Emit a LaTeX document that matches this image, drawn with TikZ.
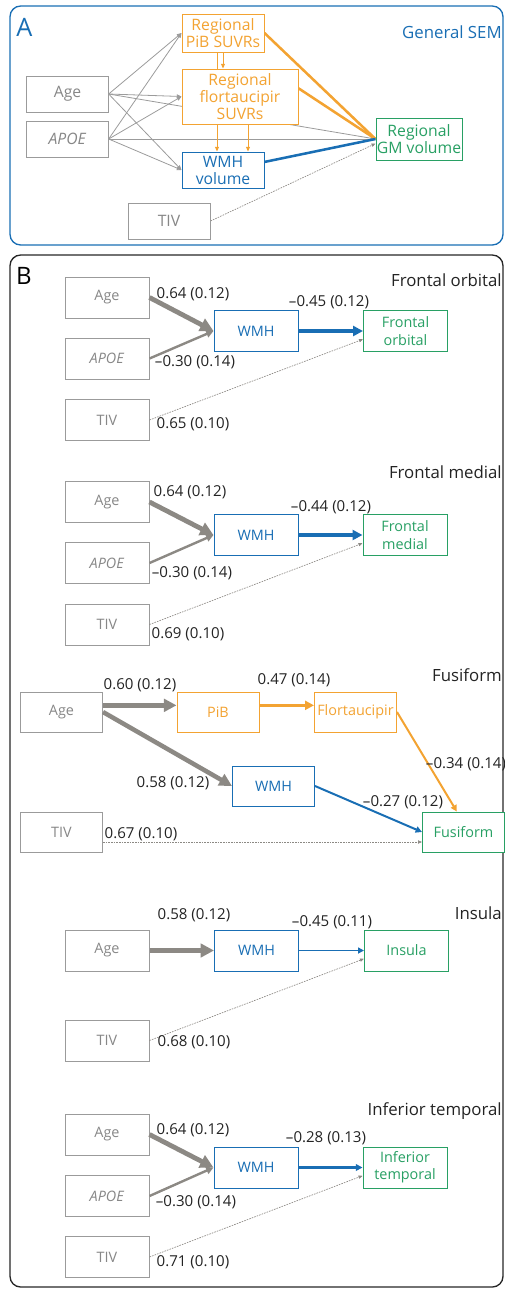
\documentclass[tikz,border=0pt]{standalone}
\usepackage{fontspec}
\setmainfont{Open Sans}
\usetikzlibrary{arrows.meta, backgrounds}

\definecolor{boxgray}{RGB}{155,155,155}
\definecolor{txtgray}{RGB}{135,135,135}
\definecolor{arrgray}{RGB}{140,137,132}
\definecolor{semorange}{RGB}{243,163,50}
\definecolor{semblue}{RGB}{25,110,180}
\definecolor{semgreen}{RGB}{40,160,100}
\definecolor{labdark}{RGB}{35,35,35}

\begin{document}
\begin{tikzpicture}[x=0.75pt, y=-0.75pt,
        varbox/.style={draw=boxgray, text=txtgray, fill=white, line width=0.75pt, inner sep=0pt,
            align=center, minimum width=63pt, minimum height=30.75pt, font=\fontsize{10.8}{13}\selectfont},
        pibbox/.style={varbox, draw=semorange, text=semorange},
        wmhbox/.style={varbox, draw=semblue, text=semblue},
        roibox/.style={varbox, draw=semgreen, text=semgreen},
        asize/.style={minimum width=61.5pt, minimum height=27pt, font=\fontsize{11.8}{12.8}\selectfont},
        fsize/.style={minimum width=61.5pt, minimum height=30pt},
        coef/.style={text=labdark, inner sep=0pt, font=\fontsize{11.3}{13}\selectfont},
        roititle/.style={anchor=east, text=labdark, inner sep=0pt, font=\fontsize{12.6}{14}\selectfont},
        garr/.style={draw=arrgray, line width=#1, -{Triangle[length=1pt 2.5, width=1pt 2.5]}},
        oarr/.style={garr=#1, draw=semorange},
        barr/.style={garr=#1, draw=semblue},
        thinarr/.style={draw=boxgray, line width=0.6pt, -{Triangle[length=3.5pt, width=3pt]}},
        tivline/.style={draw=arrgray, line width=0.5pt, dash pattern=on 1.2pt off 0.8pt,
            -{Triangle[length=3pt, width=2.5pt]}}]
    \useasboundingbox (0,0) rectangle (505,1289);

    % Panel frames
    \draw[semblue, line width=1pt, rounded corners=8pt] (10,6) rectangle (503,245);
    \draw[black!85, line width=1pt, rounded corners=8pt] (10,255) rectangle (503,1287);
    \node[text=semblue, font=\fontsize{19}{20}\selectfont, inner sep=0pt] (lblA) at (24.5,27.5) {A};
    \node[text=black, font=\fontsize{18}{20}\selectfont, inner sep=0pt] (lblB) at (24,276) {B};
    \node[anchor=east, text=semblue, inner sep=0pt, font=\fontsize{12.6}{14}\selectfont] (gsem) at (502,32) {General SEM};

    % General SEM
    \node[pibbox, asize, minimum height=28.5pt] (pibA) at (223,33) {Regional\\PiB SUVRs};
    \node[pibbox, asize, minimum width=87pt, minimum height=41.25pt] (flortA) at (240,96.5) {Regional\\flortaucipir\\SUVRs};
    \node[varbox, asize, minimum width=61pt] (ageA) at (67.5,94) {Age};
    \node[varbox, asize, minimum width=61pt] (apoeA) at (67.5,139) {\textit{APOE}};
    \node[wmhbox, asize] (wmhA) at (223,170) {WMH\\volume};
    \node[roibox, asize, minimum width=64.5pt, minimum height=31.5pt] (gmA) at (419,139) {Regional\\GM volume};
    \node[varbox, asize] (tivA) at (169,221) {TIV};
    \coordinate (pibL) at ([xshift=-4.5pt]pibA.south);
    \coordinate (flortR) at ([xshift=6pt]flortA.south);

    \begin{scope}[on background layer]
        \draw[thinarr] (ageA.east) -- (pibA.west);
        \draw[thinarr] (ageA.east) -- (flortA.west);
        \draw[thinarr] (ageA.east) -- (wmhA.west);
        \draw[thinarr] (ageA.east) -- (gmA.west);
        \draw[thinarr] (apoeA.east) -- (pibA.west);
        \draw[thinarr] (apoeA.east) -- (flortA.west);
        \draw[thinarr] (apoeA.east) -- (wmhA.west);
        \draw[thinarr] (apoeA.east) -- (gmA.west);
        \draw[thinarr, draw=semorange] (pibL) -- (pibL |- wmhA.north);
        \draw[thinarr, draw=semorange] (pibA.south) -- (pibA.south |- flortA.north);
        \draw[thinarr, draw=semorange] (flortR) -- (flortR |- wmhA.north);
        \draw[draw=semorange, line width=1.9pt] (pibA.east) -- (gmA.west);
        \draw[draw=semorange, line width=1.9pt] (flortA.8) -- (gmA.west);
        \draw[draw=semblue, line width=1.9pt] (wmhA.11) -- (gmA.west);
        \draw[tivline] (tivA.east) -- (gmA.186);
    \end{scope}

    % Frontal orbital
    \node[roititle] (t1) at (502,280) {Frontal orbital};
    \node[varbox] (age1) at (107,297.5) {Age};
    \node[varbox] (apoe1) at (107,358.5) {\textit{APOE}};
    \node[varbox] (tiv1) at (107,420) {TIV};
    \node[wmhbox] (wmh1) at (256,331) {WMH};
    \node[roibox] (roi1) at (405.5,331) {Frontal\\orbital};
    \draw[garr=3.6pt] (age1.east) -- (wmh1.west);
    \draw[garr=1.8pt] (apoe1.east) -- (wmh1.west);
    \draw[barr=2.6pt] (wmh1.east) -- (roi1.west);
    \draw[tivline] (tiv1.east) -- (roi1.191);
    \node[coef] (k1a) at (193,294) {0.64 (0.12)};
    \node[coef] (k1b) at (329,302) {–0.45 (0.12)};
    \node[coef] (k1c) at (195,362) {–0.30 (0.14)};
    \node[coef] (k1d) at (193,424) {0.65 (0.10)};

    % Frontal medial
    \node[roititle] (t2) at (502,472) {Frontal medial};
    \node[varbox] (age2) at (107,502) {Age};
    \node[varbox] (apoe2) at (107,563) {\textit{APOE}};
    \node[varbox] (tiv2) at (107,624.5) {TIV};
    \node[wmhbox] (wmh2) at (256,535) {WMH};
    \node[roibox] (roi2) at (405,535) {Frontal\\medial};
    \draw[garr=3.6pt] (age2.east) -- (wmh2.west);
    \draw[garr=1.8pt] (apoe2.east) -- (wmh2.west);
    \draw[barr=2.6pt] (wmh2.east) -- (roi2.west);
    \draw[tivline] (tiv2.east) -- (roi2.191);
    \node[coef] (k2a) at (190,492) {0.64 (0.12)};
    \node[coef] (k2b) at (331,507) {–0.44 (0.12)};
    \node[coef] (k2c) at (192,573) {–0.30 (0.14)};
    \node[coef] (k2d) at (188,634) {0.69 (0.10)};

    % Fusiform
    \node[roititle] (t3) at (502,675) {Fusiform};
    \node[varbox, fsize] (age3) at (61.5,712) {Age};
    \node[varbox, fsize] (tiv3) at (61.5,832) {TIV};
    \node[pibbox, fsize] (pib3) at (218,712) {PiB};
    \node[pibbox, fsize] (flort3) at (355.5,712) {Flortaucipir};
    \node[wmhbox, fsize] (wmh3) at (273.5,786) {WMH};
    \node[roibox, fsize] (roi3) at (463.5,832) {Fusiform};
    \draw[garr=3.4pt] ([yshift=5pt]age3.east) -- ([yshift=5pt]pib3.west);
    \draw[oarr=2.3pt] ([yshift=5pt]pib3.east) -- ([yshift=5pt]flort3.west);
    \draw[oarr=1.5pt] (flort3.east) -- ([xshift=-5pt]roi3.north);
    \draw[garr=3.4pt] (age3.east) -- (wmh3.west);
    \draw[barr=1.5pt] (wmh3.east) -- (roi3.west);
    \draw[tivline] ([yshift=-7.5pt]tiv3.east) -- ([yshift=-7.5pt]roi3.west);
    \node[coef] (k3a) at (140,685) {0.60 (0.12)};
    \node[coef] (k3b) at (294,680) {0.47 (0.14)};
    \node[coef] (k3c) at (466,764) {–0.34 (0.14)};
    \node[coef] (k3d) at (173,783) {0.58 (0.12)};
    \node[coef] (k3e) at (403,802) {–0.27 (0.12)};
    \node[coef] (k3f) at (141,834) {0.67 (0.10)};

    % Insula
    \node[roititle] (t4) at (502,913) {Insula};
    \node[varbox] (age4) at (107,950.5) {Age};
    \node[varbox] (tiv4) at (107,1040.5) {TIV};
    \node[wmhbox] (wmh4) at (256.5,950.5) {WMH};
    \node[roibox] (roi4) at (406.5,950.5) {Insula};
    \draw[garr=3.6pt] (age4.east) -- (wmh4.west);
    \draw[barr=1.4pt] (wmh4.east) -- (roi4.west);
    \draw[tivline] (tiv4.east) -- (roi4.191);
    \node[coef] (k4a) at (194,915) {0.58 (0.12)};
    \node[coef] (k4b) at (332,922) {–0.45 (0.11)};
    \node[coef] (k4c) at (194,1042) {0.68 (0.10)};

    % Inferior temporal
    \node[roititle] (t5) at (502,1111) {Inferior temporal};
    \node[varbox] (age5) at (107,1134.5) {Age};
    \node[varbox] (apoe5) at (107,1196) {\textit{APOE}};
    \node[varbox] (tiv5) at (107,1257) {TIV};
    \node[wmhbox] (wmh5) at (256,1167.5) {WMH};
    \node[roibox] (roi5) at (405,1167.5) {Inferior\\temporal};
    \draw[garr=3.6pt] (age5.east) -- (wmh5.west);
    \draw[garr=1.8pt] (apoe5.east) -- (wmh5.west);
    \draw[barr=1.6pt] (wmh5.east) -- (roi5.west);
    \draw[tivline] (tiv5.east) -- (roi5.191);
    \node[coef] (k5a) at (193,1130) {0.64 (0.12)};
    \node[coef] (k5b) at (326,1138) {–0.28 (0.13)};
    \node[coef] (k5c) at (196,1202) {–0.30 (0.14)};
    \node[coef] (k5d) at (193,1262) {0.71 (0.10)};
\end{tikzpicture}
\end{document}
